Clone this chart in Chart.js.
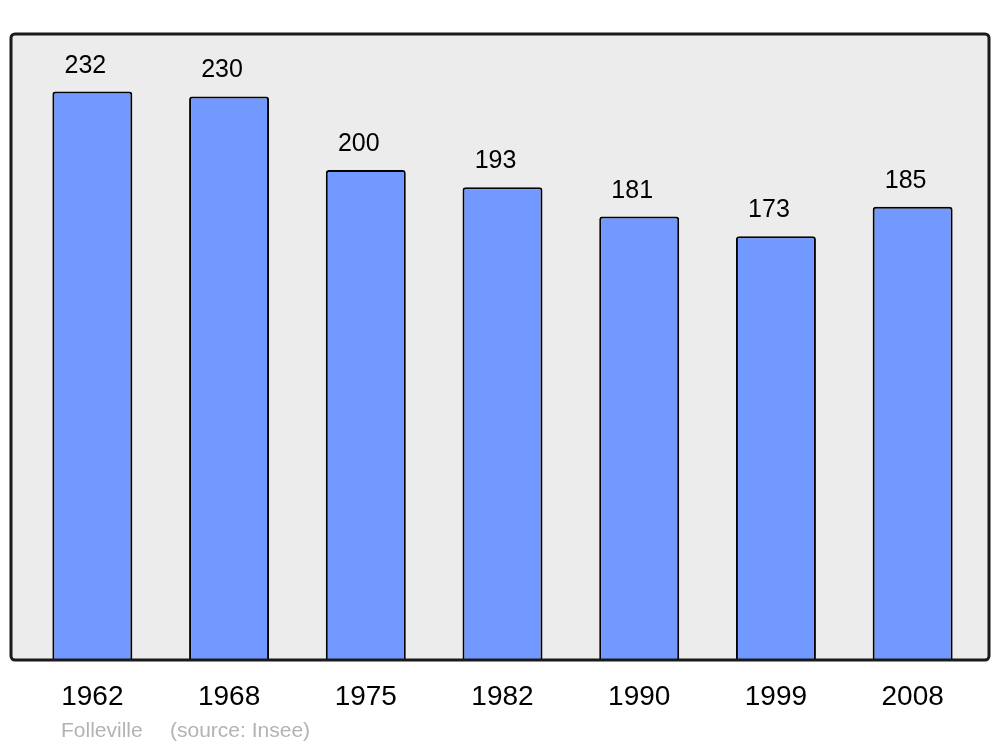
<!DOCTYPE html>
<html lang="en">
<head>
<meta charset="UTF-8">
<title>Folleville population</title>
<script src="https://cdn.jsdelivr.net/npm/chart.js"></script>
<style>
  html, body { margin: 0; padding: 0; background: #fff; }
  #wrap { width: 1000px; height: 747px; }
</style>
</head>
<body>
<div id="wrap"><canvas id="popChart"></canvas></div>
<script>
const years = ['1962', '1968', '1975', '1982', '1990', '1999', '2008'];
const population = [232, 230, 200, 193, 181, 173, 185];
const yMax = 255.5;

// grey frame behind the bars, a bit wider than the chart area
const framePlugin = {
  id: 'frame',
  beforeDraw(chart) {
    const ctx = chart.ctx;
    const a = chart.chartArea;
    ctx.save();
    ctx.beginPath();
    ctx.roundRect(11, a.top, 978, a.bottom - a.top, 4);
    ctx.fillStyle = '#ececec';
    ctx.fill();
    ctx.restore();
  },
  afterDatasetsDraw(chart) {
    const ctx = chart.ctx;
    const a = chart.chartArea;
    ctx.save();
    ctx.beginPath();
    ctx.roundRect(11, a.top, 978, a.bottom - a.top, 4);
    ctx.lineWidth = 3;
    ctx.strokeStyle = '#1a1a1a';
    ctx.stroke();

    // value labels
    const meta = chart.getDatasetMeta(0);
    ctx.font = '25px "Liberation Sans", Arial, sans-serif';
    ctx.fillStyle = '#000';
    ctx.textAlign = 'center';
    ctx.textBaseline = 'alphabetic';
    meta.data.forEach((bar, i) => {
      ctx.fillText(String(population[i]), bar.x - 7, bar.y - 19);
    });

    // footer
    ctx.font = '21px "Liberation Sans", Arial, sans-serif';
    ctx.fillStyle = '#b3b3b3';
    ctx.textAlign = 'left';
    ctx.fillText('Folleville', 61, 737);
    ctx.fillText('(source: Insee)', 170, 737);
    ctx.restore();
  }
};

new Chart(document.getElementById('popChart'), {
  type: 'bar',
  data: {
    labels: years,
    datasets: [{
      data: population,
      backgroundColor: '#7299ff',
      borderColor: '#000',
      borderWidth: 2,
      borderRadius: 3,
      borderSkipped: 'bottom',
      barPercentage: 0.585,
      categoryPercentage: 1
    }]
  },
  options: {
    responsive: true,
    maintainAspectRatio: false,
    animation: false,
    layout: { padding: { left: 24, right: 19, top: 34, bottom: 0 } },
    plugins: {
      legend: { display: false },
      tooltip: { enabled: false }
    },
    scales: {
      x: {
        grid: { display: false },
        border: { display: false },
        ticks: {
          color: '#000',
          font: { family: '"Liberation Sans", Arial, sans-serif', size: 28 },
          padding: 12,
          maxRotation: 0
        },
        afterFit(scale) { scale.height = 87; }
      },
      y: {
        display: false,
        min: 0,
        max: yMax
      }
    }
  },
  plugins: [framePlugin]
});
</script>
</body>
</html>
